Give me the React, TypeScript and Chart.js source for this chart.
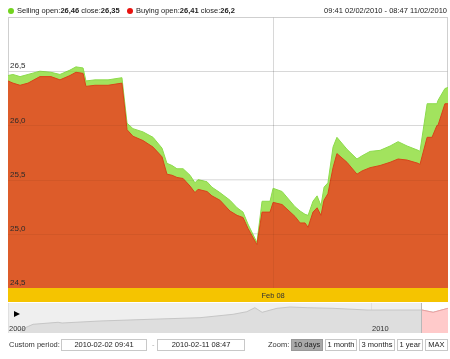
import React, { useEffect, useRef } from 'react';
import { Chart, registerables } from 'chart.js';

Chart.register(...registerables);

// ---------- data ----------
// hours since 02/02/2010 09:41
const hours = [0, 2.4, 5.9, 9.8, 15.6, 21.0, 25.4, 30.3, 33.2, 36.7, 38.1, 42.5, 48.9, 55.7, 58.2, 61.1, 66.0, 70.9, 75.3, 77.7, 80.2, 82.6, 85.6, 89.0, 91.4, 92.9, 97.3, 99.7, 103.6, 108.5, 112.0, 114.9, 117.3, 121.7, 124.2, 128.1, 129.6, 134.0, 140.3, 142.8, 145.2, 146.7, 149.1, 151.1, 153.0, 154.5, 156.4, 158.9, 160.8, 165.7, 170.6, 173.1, 177.0, 181.9, 186.8, 190.7, 195.1, 200.5, 201.4, 204.9, 207.3, 209.7, 210.2, 213.6, 215.1];
const selling = [26.46, 26.47, 26.45, 26.47, 26.50, 26.49, 26.47, 26.51, 26.54, 26.53, 26.41, 26.42, 26.42, 26.44, 26.02, 25.97, 25.94, 25.89, 25.79, 25.65, 25.63, 25.60, 25.60, 25.54, 25.47, 25.50, 25.48, 25.43, 25.38, 25.31, 25.24, 25.20, 25.09, 24.92, 25.30, 25.30, 25.42, 25.39, 25.25, 25.21, 25.18, 25.17, 25.30, 25.35, 25.26, 25.43, 25.47, 25.80, 25.89, 25.78, 25.69, 25.72, 25.76, 25.77, 25.81, 25.85, 25.81, 25.77, 25.76, 26.20, 26.20, 26.20, 26.23, 26.34, 26.35];
const buying = [26.41, 26.39, 26.37, 26.39, 26.45, 26.45, 26.42, 26.46, 26.49, 26.48, 26.36, 26.37, 26.37, 26.39, 25.96, 25.90, 25.86, 25.80, 25.71, 25.55, 25.54, 25.52, 25.51, 25.44, 25.38, 25.41, 25.39, 25.35, 25.31, 25.21, 25.17, 25.15, 25.05, 24.90, 25.20, 25.20, 25.29, 25.27, 25.16, 25.10, 25.10, 25.06, 25.20, 25.24, 25.17, 25.31, 25.37, 25.61, 25.74, 25.66, 25.55, 25.58, 25.61, 25.63, 25.66, 25.69, 25.68, 25.65, 25.64, 25.89, 25.89, 26.00, 26.00, 26.20, 26.20];
const yTicks = [24.5, 25, 25.5, 26, 26.5, 27];
const yMin = 24.5;
const yMax = 27;
const feb08Hour = 129.6;
const feb08Label = 'Feb 08';
const periodEndHour = 215.1;

// navigator (long-run overview)
const navYears = [2000.33, 2000.69, 2001.38, 2001.49, 2002.53, 2003.91, 2005.29, 2006.20, 2006.58, 2006.80, 2007.00, 2007.41, 2007.77, 2008.24, 2008.95, 2009.89, 2010.80, 2011.40, 2011.71, 2012.12];
const navLevel = [3, 8.7, 10.7, 10, 12, 13.7, 15.3, 18.7, 21.3, 25.3, 20.7, 24.7, 26, 25.3, 24.7, 23, 23, 23, 20.7, 24.7];
const navTickYears = [2000, 2010];
const navMin = 2000;
const navMax = 2012.12;
const navSelectionStart = 2011.39;

const legendSelling = { name: 'Selling', open: '26,46', close: '26,35' };
const legendBuying = { name: 'Buying', open: '26,41', close: '26,2' };
const periodText = '09:41 02/02/2010 - 08:47 11/02/2010';
const customFrom = '2010-02-02 09:41';
const customTo = '2010-02-11 08:47';
const zoomButtons = ['10 days', '1 month', '3 months', '1 year', 'MAX'];

const FAMILY = "'Liberation Sans', Arial, sans-serif";
const ORANGE = '#DD5C2A';
const GREEN = '#A2E35E';

const framePlugin = {
  id: 'frame',
  beforeDatasetsDraw(chart: any) {
    const { ctx, chartArea: a } = chart;
    ctx.save();
    ctx.strokeStyle = '#cfcfcf';
    ctx.lineWidth = 1;
    ctx.strokeRect(a.left + 0.5, a.top + 0.5, a.right - a.left - 1, a.bottom - a.top);
    ctx.restore();
  },
  afterDatasetsDraw(chart: any) {
    // faint grid visible through the filled areas
    const { ctx, chartArea: a, scales } = chart;
    ctx.save();
    ctx.strokeStyle = 'rgba(0,0,0,0.05)';
    ctx.lineWidth = 1;
    ctx.beginPath();
    scales.y.ticks.forEach((t: any) => {
      if (t.value >= yMax) return;
      const py = Math.round(scales.y.getPixelForValue(t.value)) + 0.5;
      ctx.moveTo(a.left, py);
      ctx.lineTo(a.right, py);
    });
    const px = Math.round(scales.x.getPixelForValue(feb08Hour)) + 0.5;
    ctx.moveTo(px, a.top);
    ctx.lineTo(px, a.bottom);
    ctx.stroke();
    ctx.restore();
  },
  afterDraw(chart: any) {
    const { ctx, chartArea: a, scales } = chart;
    ctx.save();
    ctx.fillStyle = '#F5C400';
    ctx.fillRect(a.left, a.bottom, a.right - a.left, 14);
    ctx.fillStyle = '#333';
    ctx.font = `7.5px ${FAMILY}`;
    ctx.textAlign = 'center';
    ctx.textBaseline = 'middle';
    ctx.fillText(feb08Label, scales.x.getPixelForValue(feb08Hour), a.bottom + 7.5);
    ctx.restore();
  },
};

const navPlugin = {
  id: 'navbg',
  beforeDraw(chart: any) {
    const { ctx, chartArea: a, scales } = chart;
    const sx = scales.x.getPixelForValue(navSelectionStart);
    ctx.save();
    ctx.fillStyle = '#efefef';
    ctx.fillRect(a.left, a.top, a.right - a.left, a.bottom - a.top);
    ctx.fillStyle = '#ffffff';
    ctx.fillRect(sx, a.top, a.right - sx, a.bottom - a.top);
    ctx.restore();
  },
  afterDraw(chart: any) {
    const { ctx, chartArea: a, scales } = chart;
    const sx = Math.round(scales.x.getPixelForValue(navSelectionStart)) + 0.5;
    ctx.save();
    ctx.strokeStyle = '#b8b8b8';
    ctx.lineWidth = 1;
    ctx.beginPath();
    ctx.moveTo(sx, a.top);
    ctx.lineTo(sx, a.bottom);
    ctx.stroke();
    ctx.restore();
  },
};

const txt = (left: number, top: number, extra: React.CSSProperties = {}): React.CSSProperties => ({
  position: 'absolute',
  left,
  top,
  fontFamily: FAMILY,
  fontSize: '7.5px',
  lineHeight: '10px',
  color: '#222',
  whiteSpace: 'nowrap',
  ...extra,
});

const boxStyle = (left: number, width: number, selected = false): React.CSSProperties => ({
  position: 'absolute',
  left,
  top: 339,
  width,
  height: 12,
  boxSizing: 'border-box',
  border: `1px solid ${selected ? '#999' : '#c8c8c8'}`,
  background: selected ? '#a9a9a9' : '#fff',
  fontFamily: FAMILY,
  fontSize: '7.5px',
  lineHeight: '10px',
  color: '#222',
  textAlign: 'center',
  whiteSpace: 'nowrap',
});

export default function App() {
  const mainRef = useRef<HTMLCanvasElement>(null);
  const navRef = useRef<HTMLCanvasElement>(null);

  useEffect(() => {
    const main = new Chart(mainRef.current as HTMLCanvasElement, {
      type: 'line',
      data: {
        datasets: [
          {
            label: legendBuying.name,
            data: hours.map((h, i) => ({ x: h, y: buying[i] })),
            borderColor: '#D8441A',
            borderWidth: 1,
            backgroundColor: ORANGE,
            fill: 'start',
            pointRadius: 0,
            tension: 0,
          },
          {
            label: legendSelling.name,
            data: hours.map((h, i) => ({ x: h, y: selling[i] })),
            borderColor: '#8CDB4C',
            borderWidth: 1,
            backgroundColor: GREEN,
            fill: 'start',
            pointRadius: 0,
            tension: 0,
          },
        ],
      },
      options: {
        animation: false,
        responsive: false,
        events: [],
        layout: { padding: { left: 8, top: 17, right: 2, bottom: 15 } },
        plugins: { legend: { display: false }, tooltip: { enabled: false } },
        scales: {
          x: {
            type: 'linear',
            min: 0,
            max: periodEndHour,
            afterBuildTicks: (axis: any) => {
              axis.ticks = [{ value: feb08Hour }];
            },
            afterFit: (axis: any) => {
              axis.height = 0;
            },
            ticks: { display: false },
            grid: { color: 'rgba(0,0,0,0.11)', drawTicks: false },
            border: { display: false },
          },
          y: {
            type: 'linear',
            min: yMin,
            max: yMax,
            afterBuildTicks: (axis: any) => {
              axis.ticks = yTicks.map((v) => ({ value: v }));
            },
            afterFit: (axis: any) => {
              axis.width = 0;
            },
            ticks: {
              z: 2,
              mirror: true,
              padding: 2,
              labelOffset: -5,
              color: '#2a2a2a',
              font: { size: 8, family: FAMILY },
              autoSkip: false,
              callback: (v: any) => (Number(v) >= yMax ? '' : Number(v).toFixed(1).replace('.', ',')),
            },
            grid: {
              color: (c: any) => (c.tick && c.tick.value >= yMax ? 'rgba(0,0,0,0)' : 'rgba(0,0,0,0.11)'),
              drawTicks: false,
            },
            border: { display: false },
          },
        },
      },
      plugins: [framePlugin],
    } as any);

    const navPts = navYears.map((x, i) => ({ x, y: navLevel[i] }));
    const nav = new Chart(navRef.current as HTMLCanvasElement, {
      type: 'line',
      data: {
        datasets: [
          {
            data: navPts.filter((p) => p.x >= navSelectionStart),
            borderColor: '#eaa0a0',
            borderWidth: 1,
            backgroundColor: '#ffcaca',
            fill: 'start',
            pointRadius: 0,
            tension: 0,
          },
          {
            data: navPts,
            borderColor: '#c6c6c6',
            borderWidth: 1,
            backgroundColor: '#dedede',
            fill: 'start',
            pointRadius: 0,
            tension: 0,
          },
        ],
      },
      options: {
        animation: false,
        responsive: false,
        events: [],
        layout: { padding: 0 },
        plugins: { legend: { display: false }, tooltip: { enabled: false } },
        scales: {
          x: {
            type: 'linear',
            min: navMin,
            max: navMax,
            afterBuildTicks: (axis: any) => {
              axis.ticks = navTickYears.map((v) => ({ value: v }));
            },
            afterFit: (axis: any) => {
              axis.height = 0;
            },
            ticks: { display: false },
            grid: { color: '#e0e0e0', drawTicks: false },
            border: { display: false },
          },
          y: { type: 'linear', min: 0, max: 30, display: false },
        },
      },
      plugins: [navPlugin],
    } as any);

    return () => {
      main.destroy();
      nav.destroy();
    };
  }, []);

  return (
    <div style={{ position: 'absolute', left: 0, top: 0, width: 450, height: 359, background: '#fff', overflow: 'hidden' }}>
      <canvas ref={mainRef} width={450} height={303} style={{ position: 'absolute', left: 0, top: 0 }} />
      <canvas ref={navRef} width={440} height={30} style={{ position: 'absolute', left: 8, top: 303 }} />

      {/* legend */}
      <div style={{ position: 'absolute', left: 8, top: 8, width: 6, height: 6, borderRadius: 3, background: '#72D41E' }} />
      <div style={txt(17, 6)}>
        {legendSelling.name} open:<b>{legendSelling.open}</b> close:<b>{legendSelling.close}</b>
      </div>
      <div style={{ position: 'absolute', left: 127, top: 8, width: 6, height: 6, borderRadius: 3, background: '#E8120E' }} />
      <div style={txt(136, 6)}>
        {legendBuying.name} open:<b>{legendBuying.open}</b> close:<b>{legendBuying.close}</b>
      </div>
      <div style={txt(0, 6, { left: 'auto', right: 3 })}>{periodText}</div>

      {/* navigator extras */}
      <div
        style={{
          position: 'absolute',
          left: 14,
          top: 311,
          width: 0,
          height: 0,
          borderTop: '3.5px solid transparent',
          borderBottom: '3.5px solid transparent',
          borderLeft: '6px solid #000',
        }}
      />
      <div style={txt(9, 324, { color: '#333' })}>{navTickYears[0]}</div>
      <div style={txt(372, 324, { color: '#333' })}>{navTickYears[1]}</div>

      {/* controls */}
      <div style={txt(9, 340, { color: '#333' })}>Custom period:</div>
      <div style={boxStyle(61, 86)}>{customFrom}</div>
      <div style={txt(152, 340, { color: '#aaa' })}>-</div>
      <div style={boxStyle(157, 88)}>{customTo}</div>
      <div style={txt(268, 340, { color: '#333' })}>Zoom:</div>
      <div style={boxStyle(291, 32, true)}>{zoomButtons[0]}</div>
      <div style={boxStyle(325, 32)}>{zoomButtons[1]}</div>
      <div style={boxStyle(359, 36)}>{zoomButtons[2]}</div>
      <div style={boxStyle(397, 26)}>{zoomButtons[3]}</div>
      <div style={boxStyle(425, 23)}>{zoomButtons[4]}</div>
    </div>
  );
}
